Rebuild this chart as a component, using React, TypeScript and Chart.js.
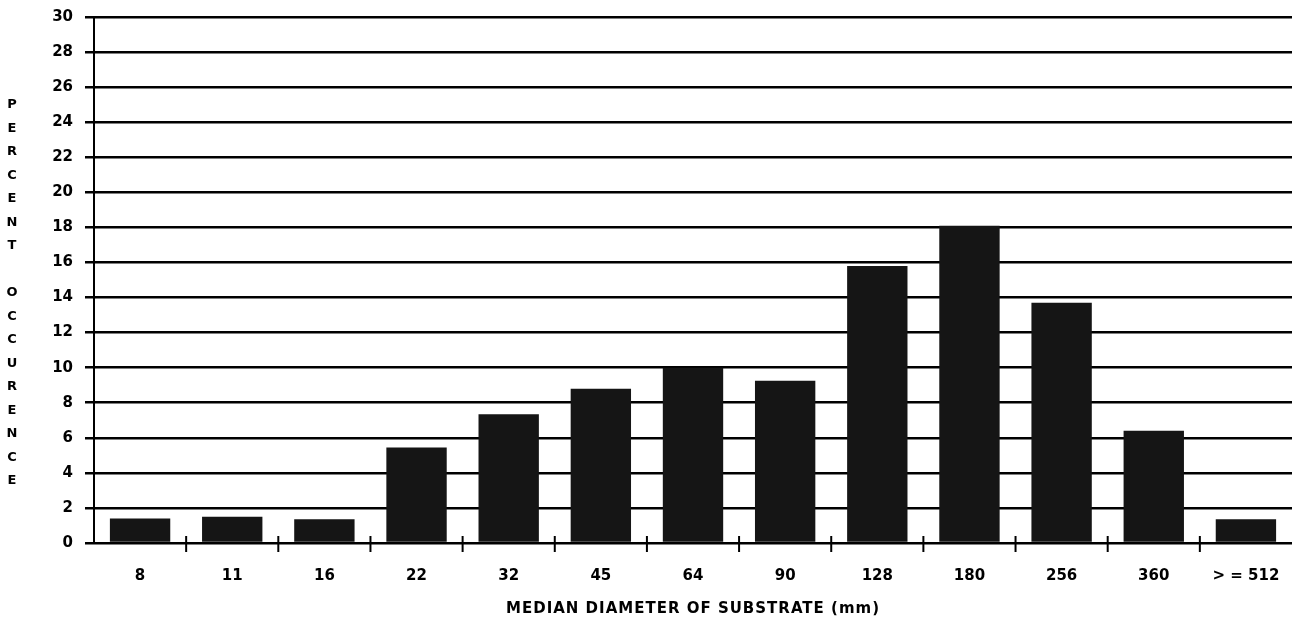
import React, { useEffect, useRef } from "react";
import { Chart, registerables } from "chart.js";

Chart.register(...registerables);

const categories = ["8", "11", "16", "22", "32", "45", "64", "90", "128", "180", "256", "360", "> = 512"];
const percentOccurrence = [1.4, 1.5, 1.35, 5.45, 7.35, 8.8, 10.0, 9.25, 15.8, 18.1, 13.7, 6.4, 1.35];
const yTitleLetters = ["P", "E", "R", "C", "E", "N", "T", "", "O", "C", "C", "U", "R", "E", "N", "C", "E"];
const xTitle = "MEDIAN DIAMETER OF SUBSTRATE (mm)";

const FONT = "'DejaVu Sans', sans-serif";

const decorPlugin = {
  id: "decor",
  afterDraw(chart: any) {
    const ctx = chart.ctx;
    const x = chart.scales.x;
    const area = chart.chartArea;
    ctx.save();
    // x boundary ticks crossing the axis
    ctx.strokeStyle = "#000";
    ctx.lineWidth = 2;
    const n = categories.length;
    for (let i = 1; i < n; i++) {
      const px = (x.getPixelForValue(i - 1) + x.getPixelForValue(i)) / 2;
      ctx.beginPath();
      ctx.moveTo(px, area.bottom - 7);
      ctx.lineTo(px, area.bottom + 9);
      ctx.stroke();
    }
    // vertical stacked y title
    ctx.fillStyle = "#000";
    ctx.font = `bold 13px ${FONT}`;
    ctx.textAlign = "center";
    ctx.textBaseline = "middle";
    const startY = 105;
    const step = 23.5;
    yTitleLetters.forEach((ch, i) => {
      if (ch) ctx.fillText(ch, 12, startY + i * step);
    });
    // x title
    ctx.font = `bold 15px ${FONT}`;
    (ctx as any).letterSpacing = "1px";
    ctx.fillText(xTitle, (area.left + area.right) / 2, 609);
    ctx.restore();
  },
};

export default function App() {
  const ref = useRef<HTMLCanvasElement>(null);
  useEffect(() => {
    if (!ref.current) return;
    const chart = new Chart(ref.current, {
      type: "bar",
      data: {
        labels: categories,
        datasets: [
          {
            data: percentOccurrence,
            backgroundColor: "#151515",
            borderWidth: 0,
            barPercentage: 1,
            categoryPercentage: 0.655,
          },
        ],
      },
      plugins: [decorPlugin],
      options: {
        animation: false,
        responsive: false,
        maintainAspectRatio: false,
        layout: { padding: { top: 17, right: 0, left: 0, bottom: 0 } },
        plugins: { legend: { display: false }, tooltip: { enabled: false }, title: { display: false } },
        scales: {
          x: {
            grid: { display: false },
            border: { display: false },
            ticks: {
              color: "#000",
              font: { family: FONT, weight: "bold", size: 15 },
              padding: 16,
              maxRotation: 0,
              autoSkip: false,
            },
            afterFit(scale: any) {
              scale.height = 79;
              scale.paddingLeft = 0;
              scale.paddingRight = 0;
            },
          },
          y: {
            min: 0,
            max: 30,
            ticks: {
              stepSize: 2,
              color: "#000",
              font: { family: FONT, weight: "bold", size: 15 },
              padding: 12,
            },
            grid: {
              color: "#000",
              lineWidth: 2.5,
              tickLength: 9,
              drawTicks: true,
            },
            border: { display: true, color: "#000", width: 2 },
            afterFit(scale: any) {
              scale.width = 94;
              scale.paddingTop = 0;
              scale.paddingBottom = 0;
            },
          },
        },
      },
    });
    return () => chart.destroy();
  }, []);
  return (
    <div style={{ position: "fixed", left: 0, top: 0, width: 1292, height: 622, background: "#fff" }}>
      <canvas ref={ref} width={1292} height={622} style={{ width: 1292, height: 622 }} />
    </div>
  );
}
